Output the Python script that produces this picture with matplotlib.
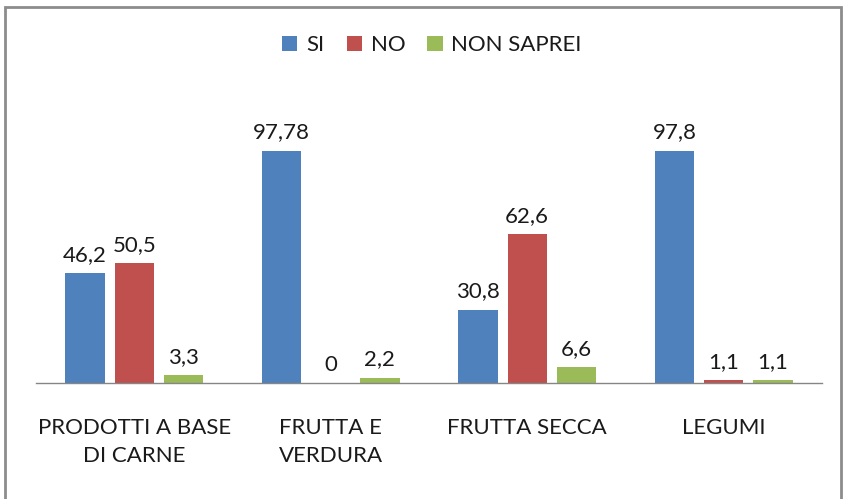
import matplotlib
matplotlib.use("Agg")
import matplotlib.pyplot as plt
import numpy as np
from matplotlib.patches import Rectangle

categories = ["PRODOTTI A BASE\nDI CARNE", "FRUTTA E\nVERDURA", "FRUTTA SECCA", "LEGUMI"]
series_names = ["SI", "NO", "NON SAPREI"]
si = [46.2, 97.78, 30.8, 97.8]
no = [50.5, 0, 62.6, 1.1]
non_saprei = [3.3, 2.2, 6.6, 1.1]
labels_si = ["46,2", "97,78", "30,8", "97,8"]
labels_no = ["50,5", "0", "62,6", "1,1"]
labels_ns = ["3,3", "2,2", "6,6", "1,1"]

colors = ["#4F81BD", "#C0504D", "#9BBB59"]
plt.rcParams['font.family'] = ['Lato', 'DejaVu Sans']
FS = 16

fig = plt.figure(figsize=(8.43, 4.99), dpi=100)
W, H = 843, 499
ax = fig.add_axes([36 / W, (H - 383) / H, 786 / W, 285 / H])

x = np.arange(len(categories))
width = 0.2
offset = 0.25
data = [si, no, non_saprei]
labs = [labels_si, labels_no, labels_ns]
for i, (vals, name, col, lb) in enumerate(zip(data, series_names, colors, labs)):
    bars = ax.bar(x + (i - 1) * offset, vals, width, color=col, label=name, zorder=2)
    for b, t in zip(bars, lb):
        ax.annotate(t, (b.get_x() + b.get_width() / 2, b.get_height()),
                    xytext=(0, 6), textcoords="offset points",
                    ha="center", va="bottom", fontsize=FS, color="#1a1a1a")

ax.set_xlim(-0.5, len(categories) - 0.5)
ax.set_ylim(0, 120)
ax.set_yticks([])
ax.set_xticks(x)
ax.set_xticklabels(categories, fontsize=FS, color="#1a1a1a", linespacing=1.5)
ax.tick_params(axis="x", length=0, pad=25)
for s in ["top", "right", "left"]:
    ax.spines[s].set_visible(False)
ax.spines["bottom"].set_color("#868686")
ax.spines["bottom"].set_linewidth(1.0)

leg = fig.legend(loc="center", bbox_to_anchor=(432 / W, 1 - 45 / H), ncol=3, frameon=False,
                 fontsize=FS, handlelength=0.68, handleheight=0.68, handletextpad=0.4,
                 columnspacing=1.0)
for t in leg.get_texts():
    t.set_color("#1a1a1a")

fig.patches.append(Rectangle((4.5 / W, -0.1), 836 / W, 1.1 - 6.5 / H,
                             transform=fig.transFigure, fill=False,
                             edgecolor="#8c8c8c", linewidth=2.0))

fig.savefig("out.png", dpi=100)
